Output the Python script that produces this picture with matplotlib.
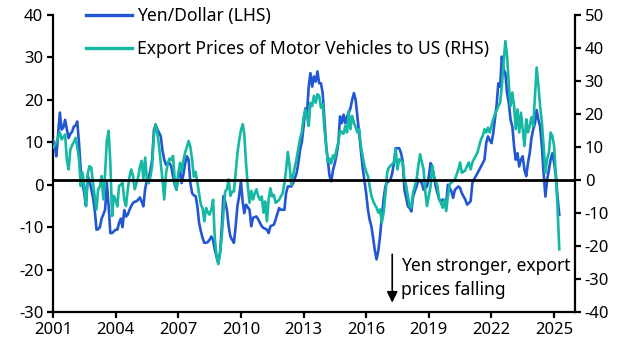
import matplotlib
matplotlib.use("Agg")
import matplotlib.pyplot as plt
import pandas as pd
import numpy as np

plt.rcParams['font.family'] = ['Noto Sans', 'DejaVu Sans']
plt.rcParams['axes.unicode_minus'] = False

start_month = "2001-01-01"
year_ticks = [2001, 2004, 2007, 2010, 2013, 2016, 2019, 2022, 2025]
series_labels = ["Yen/Dollar (LHS)", "Export Prices of Motor Vehicles to US (RHS)"]
note_text = "Yen stronger, export\nprices falling"

# Yen/Dollar, % y/y (LHS), monthly from Jan 2001
yen_dollar = [
    10.5, 9, 6.7, 12, 17, 13, 13.5, 15.3, 13, 11, 12, 12.5,
    13.7, 14, 14.9, 9.8, 3.5, 0.4, -2, -5, 2, 1, -1, -3,
    -6, -10.6, -10.5, -10, -8, -7, -5.9, 0.4, -5, -11.4, -11.4, -11,
    -10.6, -10.6, -9, -8, -10, -6, -7.5, -7, -5.9, -5, -4.3, -4,
    -3.9, -3.5, -3, -4, -5.1, -1, 1, 1.5, 3.5, 5.9, 12.9, 14.1,
    13, 12.2, 11.4, 8, 5.9, 4.7, 5, 5.1, 4.3, 2, 0, -1.2,
    2, 3.5, 0.4, 2.4, 5, 6.7, 5.9, 0.4, -2, -2.5, -2.7, -5.1,
    -9, -11, -12.5, -13.7, -13.7, -13.5, -13, -12.2, -13, -15.3, -17, -18.4,
    -16.1, -9.8, -2.7, -4, -5.9, -9.8, -12.2, -13, -13.7, -9.8, -5, -2.7,
    0.8, -4, -6.7, -4.7, -5.3, -5.9, -9.8, -7.8, -7.6, -7.5, -8.2, -9,
    -9.8, -10.2, -10.4, -10.6, -11.4, -9.8, -9.6, -9.4, -8.2, -6.8, -5.5, -5.9,
    -5.9, -5.9, -2, -0.4, -0.4, -0.4, 0.4, 1.5, 2.7, 5.1, 8.2, 10,
    13.7, 18, 16.5, 23.1, 26.3, 23.1, 25.5, 24.3, 26.7, 23.9, 23.9, 21.6,
    15.3, 9, 5.9, 2, 0.8, 3.5, 5, 7, 9.8, 16.1, 14.5, 16.5,
    14.5, 16.1, 17, 18, 20, 21.6, 20, 16.1, 12, 8, 4, 1,
    -2, -5.9, -8.2, -9.8, -12.5, -15.5, -17.6, -15.5, -12, -7.5, -3.5, -0.4,
    0.5, 0.8, 1.2, 2.7, 5.1, 8.6, 8.6, 8.6, 7.5, 5.5, -1.2, -3.1,
    -5.1, -5.5, -6.3, -2.8, -1.5, -0.4, 1.2, 0.8, 0.4, -1.2, -0.8, -0.4,
    2, 5.1, 4.3, 2, -0.4, -2, -3.5, -3.9, -3.5, -3.9, -4.3, 0,
    -0.8, -1.6, -3.1, -1.2, -0.8, -0.4, -0.8, -2, -2.8, -3.5, -4.7, -4.3,
    -3.9, 0.4, 1.2, 2, 2.7, 3.5, 4.3, 5.1, 5.9, 9.8, 11.4, 10.5,
    9.8, 12.2, 15.3, 18.8, 23.9, 23.1, 30.2, 27.1, 26.3, 21.6, 19.2, 15.3,
    13.7, 9, 5.9, 7.4, 4.3, 5.9, 6.7, 3.5, 2, 5.1, 7.4, 11,
    13, 14.5, 17.6, 15.3, 13.7, 9, 2.7, -2.8, 1.2, 3.5, 5.9, 7.4,
    5.1, 2, -2.8, -7.1,
]

# Export prices of motor vehicles to US, % y/y (RHS), monthly from Jan 2001
export_prices = [
    9.8, 10.5, 11.3, 13, 14.4, 12.3, 13, 13.8, 6, 3.2, 9.3, 10.5,
    11.5, 12.8, 10, 6.3, -1.8, 2.2, -2, -7.9, 2, 4.2, 3.8, -0.8,
    -5, -8.9, -2.8, -2, 1.2, -5.9, 2, 12, 14.9, 5.2, -10.9, -4.8,
    -6, -8, -1.8, -1.5, -0.8, -6, -7.9, -2.8, 1, 3.2, 1.2, -2.8,
    -1, 1, 4, 5.8, 0.2, 6.8, 0.2, -1, 1, 4.2, 13.5, 16.9,
    14, 10, 5, 0, -5.9, 2, 5, 6.5, 6, 7.3, 0, -3,
    2, 5.2, 2.5, 6, 8.3, 10, 11.8, 10, 6, 1, 2.5, -0.8,
    -4, -7.5, -8.5, -12.5, -8.5, -9.7, -10.5, -9, -6, -17.5, -23, -25.5,
    -22, -17, -10, -3.5, -2.8, 0.2, -4.8, -3.5, -3.5, 2.2, 8, 12,
    15, 16.9, 14, 5, -1.8, -6.9, -3.3, -5.9, -4, -2.8, -5, -6,
    -5, -9.9, -6.5, -12.5, -6, -2.5, -5, -4.5, -6.9, -6.5, -6, -5,
    -4, -1, 3, 8.5, 4.3, -1.5, 1.5, 4, 6.5, 9.5, 12.5, 14.5,
    18.9, 21.4, 19.4, 16.4, 23.4, 22.4, 25.5, 23.4, 26, 25.5, 21.9, 23,
    15.4, 10.3, 5.5, 6.5, 5, 7.5, 6.5, 9.3, 11.3, 15, 14.4, 14,
    16.4, 14.4, 20.9, 15.4, 19.4, 17.4, 16, 14.4, 15.4, 10.3, 7.3, 4.3,
    2.5, 1.2, -1.8, -4.8, -6.3, -7.5, -8.4, -9.9, -8.9, -12.9, -9.9, -4.8,
    2.2, 3.8, 4.3, 4.8, 5.3, 9.3, 3.2, 6.3, 5.8, 5.3, 0.2, -1.8,
    -5, -7.9, -8.4, -3.8, -1.8, 0.2, 4.3, 7.8, 5.5, 3.2, -3.8, -7.9,
    -4.8, -1.8, 4.3, 1.2, -0.3, -1.8, -5.9, -7, -8.4, -5.9, -9.4, -5,
    -1.3, -0.8, -0.3, 0.2, 1.7, 3.2, 5.3, 2.2, 2.5, 3, 4.3, 5.3,
    3.2, 5.3, 6.3, 7.3, 8.3, 10.3, 12.3, 13.3, 15.4, 14.4, 15.9, 14.4,
    16.4, 18.4, 19.9, 21, 22.4, 23.4, 28.5, 35.6, 42.1, 37.6, 28.5, 22.4,
    26.5, 22.4, 15.4, 21.4, 14.4, 20.4, 15.4, 10.3, 18.4, 14.4, 16.4, 19,
    16.4, 25.5, 34.1, 28.5, 22.4, 17.4, 10.3, 2.2, 6.3, 8.3, 14.4, 13.3,
    10.3, 1.2, -7.9, -21,
]

dates = pd.date_range(start_month, periods=len(yen_dollar), freq="MS")

BLUE = "#2356D2"
TEAL = "#14B8A3"
FS_TICK = 12
FS_TEXT = 12.6

fig = plt.figure(figsize=(6.32, 3.59), dpi=100)
ax = fig.add_axes([53/632, 1-312/359, (575-53)/632, (312-15)/359])
ax2 = ax.twinx()

l1, = ax.plot(dates, yen_dollar, color=BLUE, lw=1.9, zorder=3)
l2, = ax2.plot(dates, export_prices, color=TEAL, lw=1.9, zorder=3)
ax2.axhline(0, color="black", lw=2.0, zorder=4)

ax.set_ylim(-30, 40)
ax2.set_ylim(-40, 50)
ax.set_yticks(np.arange(-30, 41, 10))
ax2.set_yticks(np.arange(-40, 51, 10))
ax.set_xlim(pd.Timestamp("2001-01-01"), pd.Timestamp("2026-01-01"))
ax.set_xticks([pd.Timestamp(f"{y}-01-01") for y in year_ticks])
ax.set_xticklabels([str(y) for y in year_ticks])

for a in (ax, ax2):
    a.spines["top"].set_visible(False)
    for s in a.spines.values():
        s.set_linewidth(1.6)
    a.tick_params(axis="both", direction="out", length=4, width=1.6,
                  labelsize=FS_TICK, colors="black", pad=3)
ax.spines["right"].set_visible(False)
ax2.spines["left"].set_visible(False)
ax2.spines["bottom"].set_visible(False)

leg = ax.legend([l1, l2], series_labels, loc="upper left",
                bbox_to_anchor=(86/632, 1-7.5/359), bbox_transform=fig.transFigure,
                frameon=False, fontsize=FS_TEXT, handlelength=2.6, handletextpad=0.3,
                labelspacing=0.82, borderpad=0, borderaxespad=0)
for h in leg.get_lines():
    h.set_linewidth(2.4)

ax.annotate("", xy=(pd.Timestamp("2017-04-01"), -27.8),
            xytext=(pd.Timestamp("2017-04-01"), -16.4),
            arrowprops=dict(arrowstyle="-|>,head_length=0.65,head_width=0.32",
                            color="black", lw=1.2, shrinkA=0, shrinkB=0))
ax.text(pd.Timestamp("2017-09-01"), -17.0, note_text, fontsize=FS_TEXT,
        va="top", ha="left", linespacing=1.42, color="black")

fig.savefig("out.png", dpi=100)
